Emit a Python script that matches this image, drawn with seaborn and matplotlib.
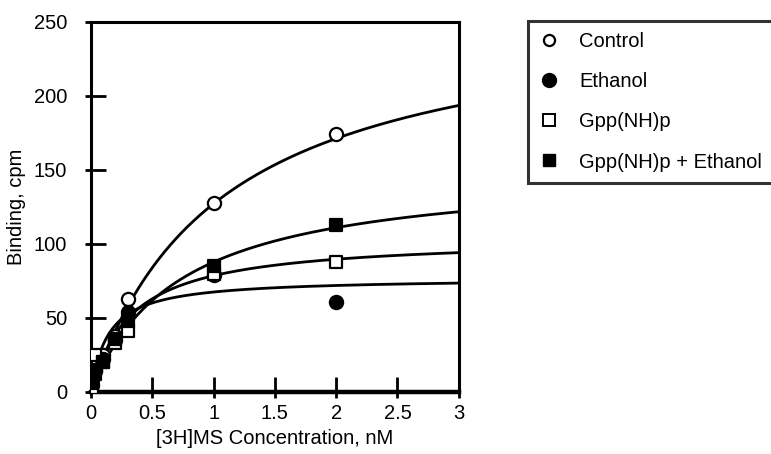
import numpy as np
import pandas as pd
import matplotlib
matplotlib.use("Agg")
import matplotlib.pyplot as plt
from matplotlib.lines import Line2D
import seaborn as sns

# ---- data ----
conc = [0.01, 0.03, 0.1, 0.2, 0.3, 1.0, 2.0]
control = [5, 14, 25, 38, 63, 128, 174]
ethanol = [8, 15, 22, 35, 54, 79, 61]
gpp = [3, 25, 20, 33, 41, 80, 88]
gpp_ethanol = [6, 12, 20, 36, 48, 85, 113]

series_names = ["Control", "Ethanol", "Gpp(NH)p", "Gpp(NH)p + Ethanol"]
# fitted saturation-binding curve parameters (Bmax, Kd)
fit_bmax = [262, 77, 104.5, 151]
fit_kd = [1.06, 0.14, 0.33, 0.72]

x_ticks = [0, 0.5, 1, 1.5, 2, 2.5, 3]
x_tick_labels = ["0", "0.5", "1", "1.5", "2", "2.5", "3"]
y_ticks = [0, 50, 100, 150, 200, 250]

sns.set_theme(style="white")
plt.rcParams["font.family"] = ["Liberation Sans", "DejaVu Sans"]

FS = 14.5

fig = plt.figure(figsize=(7.71, 4.54), dpi=100)
ax = fig.add_axes([0.118, 0.1366, 0.477, 0.815])

values = [control, ethanol, gpp, gpp_ethanol]
markers = ["o", "o", "s", "s"]
faces = ["white", "black", "white", "black"]
sizes = [90, 90, 80, 80]

# curves
xc = np.linspace(0, 3, 400)
for name, bm, kd in zip(series_names, fit_bmax, fit_kd):
    cdf = pd.DataFrame({"x": xc, "y": bm * xc / (kd + xc)})
    sns.lineplot(data=cdf, x="x", y="y", ax=ax, color="black", lw=2.0, zorder=2)

# points
for name, v, m, fc, s in zip(series_names, values, markers, faces, sizes):
    pdf = pd.DataFrame({"x": conc, "y": v})
    sns.scatterplot(data=pdf, x="x", y="y", ax=ax, marker=m, s=s,
                    facecolor=fc, edgecolor="black", linewidth=1.6, zorder=3)

ax.set_xlim(0, 3)
ax.set_ylim(0, 250)
ax.set_xticks(x_ticks)
ax.set_xticklabels(x_tick_labels)
ax.set_yticks(y_ticks)
ax.set_xlabel("[3H]MS Concentration, nM", fontsize=FS, labelpad=4, color="black")
ax.set_ylabel("Binding, cpm", fontsize=FS, labelpad=6, color="black")

# ticks: long inward part + short outward part
ax.tick_params(axis="both", which="major", direction="in", length=11, width=2,
               labelsize=FS, color="black", labelcolor="black",
               bottom=True, left=True)
ax.tick_params(axis="y", which="major", pad=17)
ax.tick_params(axis="x", which="major", pad=9)
ax.xaxis.remove_overlapping_locs = False
ax.yaxis.remove_overlapping_locs = False
ax.set_xticks(x_ticks, minor=True)
ax.set_yticks(y_ticks, minor=True)
ax.tick_params(axis="both", which="minor", direction="out", length=4, width=2,
               color="black", bottom=True, left=True)

for side in ["left", "top", "right"]:
    ax.spines[side].set_linewidth(2.2)
    ax.spines[side].set_color("black")
ax.spines["bottom"].set_linewidth(3.2)
ax.spines["bottom"].set_color("black")

handles = [
    Line2D([], [], ls="none", marker="o", ms=8, mfc="white", mec="black", mew=1.6),
    Line2D([], [], ls="none", marker="o", ms=10, mfc="black", mec="black", mew=1.0),
    Line2D([], [], ls="none", marker="s", ms=8, mfc="white", mec="black", mew=1.4),
    Line2D([], [], ls="none", marker="s", ms=9, mfc="black", mec="black", mew=1.0),
]
leg = fig.legend(handles, series_names, loc="upper left",
                 bbox_to_anchor=(528 / 771, 1 - 21 / 454), bbox_transform=fig.transFigure,
                 frameon=True, fancybox=False, shadow=False, fontsize=FS,
                 labelspacing=1.05, handletextpad=1.0, borderpad=0.55,
                 handlelength=1.0, borderaxespad=0)
leg.get_frame().set_edgecolor("black")
leg.get_frame().set_linewidth(2.2)
for t in leg.get_texts():
    t.set_color("black")

fig.savefig("out.png", dpi=100)
